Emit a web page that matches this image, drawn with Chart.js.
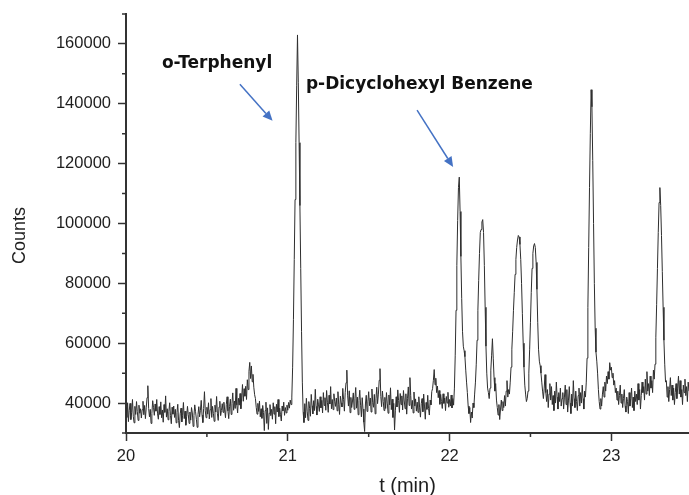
<!DOCTYPE html>
<html>
<head>
<meta charset="utf-8">
<script src="https://cdn.jsdelivr.net/npm/chart.js@4.4.1/dist/chart.umd.min.js"></script>
<style>
  html, body { margin: 0; padding: 0; background: #ffffff; }
  #wrap { width: 689px; height: 495px; }
</style>
</head>
<body>
<div id="wrap"><canvas id="c" width="689" height="495"></canvas></div>
<script>
// ---- Data ----
const startTime = 20.0;      // min
const timeStep = 0.005;      // min between samples
const counts = [
  38500, 35200, 40100, 33800, 37600, 39900, 34500, 36800, 41200, 35600, 33400, 38900, 36200, 40500, 37100, 34200, 39300, 36600, 38100, 35000,
  37800, 40600, 36100, 39200, 34800, 38400, 41800, 45800, 38200, 35400, 37900, 33200, 36500, 40800, 38600, 35900, 39700, 37300, 41200, 36400,
  34600, 38800, 36200, 40400, 35100, 37700, 33600, 39500, 36900, 42400, 35300, 38100, 34400, 37200, 40100, 35800, 33100, 38600, 36300, 39000,
  35200, 37900, 33400, 36800, 39600, 34100, 31800, 36400, 38300, 33700, 35900, 40200, 34800, 37300, 32600, 35500, 38900, 36100, 33200, 37000,
  34300, 38500, 36700, 32200, 35800, 39400, 37100, 34600, 31900, 36200, 38800, 35400, 37600, 40900, 36000, 33500, 38200, 43800, 37400, 35100,
  38600, 36300, 40100, 34700, 37800, 41500, 35200, 38900, 36600, 33900, 39300, 37000, 42200, 36400, 34200, 38700, 40600, 35800, 37500, 39800,
  36900, 40300, 37700, 35100, 39600, 42100, 37400, 34800, 38800, 41300, 36200, 39900, 43400, 37600, 40700, 38200, 44900, 39400, 36700, 41600,
  39300, 43200, 38100, 41700, 46200, 40600, 44800, 42300, 45600, 41200, 47800, 44500, 50600, 53600, 48200, 52400, 47100, 49600, 45300, 42800,
  41500, 38600, 36300, 39900, 37200, 40700, 35400, 38100, 34900, 39200, 36800, 30800, 37500, 40300, 33200, 38400, 31200, 36600, 39500, 35800,
  37900, 34600, 40100, 36300, 38800, 33100, 39600, 37000, 41200, 35500, 38300, 36100, 34000, 39000, 37400, 40300, 35900, 38500, 36700, 39300,
  37600, 40200, 38300, 41000, 39500, 42000, 52000, 68000, 88000, 108000, 127000, 146000, 163000, 147000, 127000, 106000, 85000, 64000, 47000, 37000,
  33500, 39800, 35100, 41600, 37300, 34200, 40500, 38200, 35600, 42900, 39100, 36400, 40800, 37500, 44600, 38900, 36000, 41300, 39400, 37200,
  42100, 38400, 40900, 36700, 43500, 39200, 41800, 37600, 44200, 40300, 36900, 42600, 39700, 45500, 38100, 41200, 37800, 43100, 40600, 38900,
  41700, 37400, 43800, 39600, 36200, 42300, 40100, 38700, 44900, 41100, 37300, 43600, 46800, 51000, 42400, 39000, 44100, 36800, 41900, 38500,
  40700, 43400, 37900, 41600, 45200, 38300, 42000, 36100, 40900, 44300, 39300, 35400, 41800, 38000, 33600, 30500, 39700, 42600, 37200, 40400,
  43800, 39100, 41700, 37000, 44700, 40200, 38600, 42900, 36400, 41400, 45300, 39800, 43000, 47600, 51500, 42200, 38800, 44000, 40600, 37500,
  41900, 38200, 43500, 40000, 36600, 42700, 39400, 45100, 37800, 41300, 35200, 39900, 31000, 37400, 42100, 38700, 44400, 40800, 36900, 43200,
  39500, 42400, 37700, 44200, 40700, 38100, 43100, 36300, 41600, 45400, 39200, 48500, 42500, 38000, 40900, 36700, 43700, 39000, 41400, 37300,
  40300, 36900, 42100, 38400, 35300, 39800, 41500, 37100, 43000, 39000, 34600, 40200, 37900, 42600, 38200, 36000, 41000, 39400, 43900, 44800,
  47600, 51200, 46100, 48300, 43500, 45700, 41800, 44200, 39600, 42900, 40500, 38200, 43100, 39900, 41700, 37500, 42200, 40000, 43600, 38600,
  41200, 39000, 42700, 38400, 41500, 39300, 45000, 56000, 71000, 86000, 101000, 112000, 115500, 104000, 89000, 75000, 64000, 59000, 57500, 55500,
  51000, 47000, 43500, 39000, 36500, 38500, 33500, 37000, 35000, 40000, 38500, 43000, 47000, 53000, 61000, 71000, 81000, 90000, 97000, 98000,
  100500, 101300, 97000, 86000, 72000, 59000, 50000, 45000, 43500, 41500, 45000, 51000, 56000, 61500, 55000, 48500, 44000, 46500, 41000, 38500,
  36000, 39500, 34500, 38000, 41000, 37500, 40500, 38500, 42500, 39000, 44000, 47500, 42000, 44500, 43000, 47000, 52000, 58000, 64000, 71000,
  77000, 83000, 88000, 92000, 94500, 96000, 95500, 93000, 88000, 80000, 70000, 60000, 52000, 46000, 43000, 40500, 41500, 44000, 50000, 58000,
  67000, 77000, 85000, 90000, 92500, 93300, 92000, 87000, 78000, 67000, 58000, 54000, 52500, 50000, 47000, 44000, 41500, 45000, 49500, 43500,
  40500, 44500, 38500, 43000, 46500, 41000, 45500, 39500, 42500, 37500, 44000, 40000, 47000, 42000, 38000, 43500, 40500, 45000, 39000, 41500,
  43500, 38000, 42000, 46000, 39500, 44500, 37000, 41000, 45500, 40000, 36500, 43000, 39000, 47500, 41500, 38500, 44000, 40500, 37500, 42500,
  45000, 39000, 43500, 40000, 46000, 41500, 38000, 44000, 42000, 47000, 55000, 72000, 92000, 112000, 130000, 144700, 139000, 121000, 100000, 80000,
  65000, 57000, 54000, 50000, 44500, 40500, 38000, 41500, 39000, 43000, 45500, 42000, 47000, 44000, 49000, 46500, 50500, 48000, 53500, 51000,
  52000, 48500, 50000, 46000, 47500, 43500, 45000, 41000, 44000, 39500, 42500, 46000, 40000, 43000, 38500, 41500, 44500, 39000, 37000, 42000,
  40500, 36500, 43500, 39000, 41500, 45000, 38500, 42000, 37500, 44000, 40500, 43000, 39500, 46500, 41000, 44500, 38000, 42500, 47000, 43500,
  45500, 41000, 48000, 43000, 50500, 44000, 46500, 42500, 49000, 45000, 47500, 43500, 51000, 48000, 53000, 62000, 73000, 85000, 97000, 107000,
  112000, 106000, 96000, 84000, 72000, 61000, 53000, 47000, 47500, 42000, 45500, 40500, 44500, 48500, 42500, 46000, 41000, 45000, 39500, 43500,
  46500, 41500, 45000, 49000, 43000, 47500, 42000, 44500, 39500, 46000, 43500, 48000, 42500, 45500, 40500, 47000, 44000, 46500, 43000, 45000
];

// axis ranges and ticks
const xRange = [20, 23.48];
const yRange = [30000, 170000];
const xLabelTicks = [20, 21, 22, 23];
const yLabelTicks = [40000, 60000, 80000, 100000, 120000, 140000, 160000];
const xTitle = 't (min)';
const yTitle = 'Counts';

// annotations: label text, anchor (t, counts) of text baseline-left; arrow start/end
const annotationTexts = ['o-Terphenyl', 'p-Dicyclohexyl Benzene'];
const annotationTextAt = [[20.222, 151900], [21.112, 144900]];
const arrowFrom = [[20.704, 146500], [21.799, 137900]];
const arrowTo = [[20.906, 134300], [22.022, 118900]];

// ---- Build points ----
const points = counts.map((v, i) => ({ x: startTime + i * timeStep, y: v }));

const isXMajor = v => xLabelTicks.some(t => Math.abs(t - v) < 1e-6);
const isXMinor = v => !isXMajor(v) && Math.abs(v * 2 - Math.round(v * 2)) < 1e-6;
const isYMajor = v => yLabelTicks.includes(Math.round(v));
const isYMinor = v => !isYMajor(v) && Math.round(v) % 10000 === 0;

const axisColor = '#333333';
const textColor = '#1e1e1e';
const sansFamily = '"Liberation Sans", Arial, sans-serif';

const extrasPlugin = {
  id: 'extras',
  afterDraw(chart) {
    const { ctx, chartArea, scales: { x, y } } = chart;
    ctx.save();
    // minor ticks
    ctx.strokeStyle = axisColor;
    ctx.lineWidth = 1.5;
    ctx.beginPath();
    x.ticks.forEach(t => {
      if (isXMinor(t.value)) {
        const px = x.getPixelForValue(t.value);
        ctx.moveTo(px, x.top);
        ctx.lineTo(px, x.top + 4);
      }
    });
    y.ticks.forEach(t => {
      if (isYMinor(t.value)) {
        const py = y.getPixelForValue(t.value);
        ctx.moveTo(y.right - 4, py);
        ctx.lineTo(y.right, py);
      }
    });
    ctx.stroke();

    // y axis title (rotated)
    ctx.save();
    ctx.translate(20, (chartArea.top + chartArea.bottom) / 2 + 12);
    ctx.rotate(-Math.PI / 2);
    ctx.fillStyle = textColor;
    ctx.font = '18px ' + sansFamily;
    ctx.textAlign = 'center';
    ctx.textBaseline = 'middle';
    ctx.fillText(yTitle, 0, 0);
    ctx.restore();

    // annotation labels
    ctx.fillStyle = '#111111';
    ctx.font = 'bold 17px "DejaVu Sans"';
    ctx.textAlign = 'left';
    ctx.textBaseline = 'alphabetic';
    annotationTexts.forEach((txt, i) => {
      ctx.fillText(txt, x.getPixelForValue(annotationTextAt[i][0]), y.getPixelForValue(annotationTextAt[i][1]));
    });

    // arrows
    ctx.strokeStyle = '#4472C4';
    ctx.fillStyle = '#4472C4';
    ctx.lineWidth = 1.5;
    arrowFrom.forEach((f, i) => {
      const x1 = x.getPixelForValue(f[0]), y1 = y.getPixelForValue(f[1]);
      const x2 = x.getPixelForValue(arrowTo[i][0]), y2 = y.getPixelForValue(arrowTo[i][1]);
      const ang = Math.atan2(y2 - y1, x2 - x1);
      const hl = 10, hw = 4.5;
      const bx = x2 - hl * Math.cos(ang), by = y2 - hl * Math.sin(ang);
      ctx.beginPath();
      ctx.moveTo(x1, y1);
      ctx.lineTo(bx, by);
      ctx.stroke();
      ctx.beginPath();
      ctx.moveTo(x2, y2);
      ctx.lineTo(bx + hw * Math.sin(ang), by - hw * Math.cos(ang));
      ctx.lineTo(bx - hw * Math.sin(ang), by + hw * Math.cos(ang));
      ctx.closePath();
      ctx.fill();
    });
    ctx.restore();
  }
};

new Chart(document.getElementById('c'), {
  type: 'line',
  data: {
    datasets: [{
      data: points,
      borderColor: '#2e2e2e',
      borderWidth: 1,
      pointRadius: 0,
      tension: 0,
      fill: false
    }]
  },
  options: {
    responsive: false,
    animation: false,
    devicePixelRatio: 1,
    layout: { autoPadding: false, padding: { top: 14, left: 0, right: 0, bottom: 0 } },
    plugins: { legend: { display: false }, tooltip: { enabled: false } },
    scales: {
      x: {
        type: 'linear',
        min: xRange[0],
        max: xRange[1],
        afterFit: s => { s.height = 62; s.paddingLeft = 0; s.paddingRight = 0; },
        border: { display: true, color: axisColor, width: 2 },
        grid: {
          drawOnChartArea: false,
          drawTicks: true,
          tickLength: 8,
          tickWidth: 1.5,
          tickColor: c => (c.tick && isXMajor(c.tick.value)) ? axisColor : 'rgba(0,0,0,0)'
        },
        ticks: {
          stepSize: 0.5,
          autoSkip: false,
          maxRotation: 0,
          padding: 6,
          color: textColor,
          font: { family: sansFamily, size: 16.5 },
          callback: v => isXMajor(v) ? String(Math.round(v)) : ''
        },
        title: {
          display: true,
          text: xTitle,
          color: textColor,
          font: { family: sansFamily, size: 20, lineHeight: 1 },
          padding: { top: 0, bottom: -1 }
        }
      },
      y: {
        type: 'linear',
        min: yRange[0],
        max: yRange[1],
        afterFit: s => { s.width = 126; s.paddingTop = 0; s.paddingBottom = 0; },
        border: { display: true, color: axisColor, width: 2 },
        grid: {
          drawOnChartArea: false,
          drawTicks: true,
          tickLength: 8,
          tickWidth: 1.5,
          tickColor: c => (c.tick && isYMajor(c.tick.value)) ? axisColor : 'rgba(0,0,0,0)'
        },
        ticks: {
          stepSize: 10000,
          autoSkip: false,
          padding: 7,
          color: textColor,
          font: { family: sansFamily, size: 16.5 },
          callback: v => isYMajor(v) ? String(Math.round(v)) : ''
        },
        title: { display: false }
      }
    }
  },
  plugins: [extrasPlugin]
});
</script>
</body>
</html>
